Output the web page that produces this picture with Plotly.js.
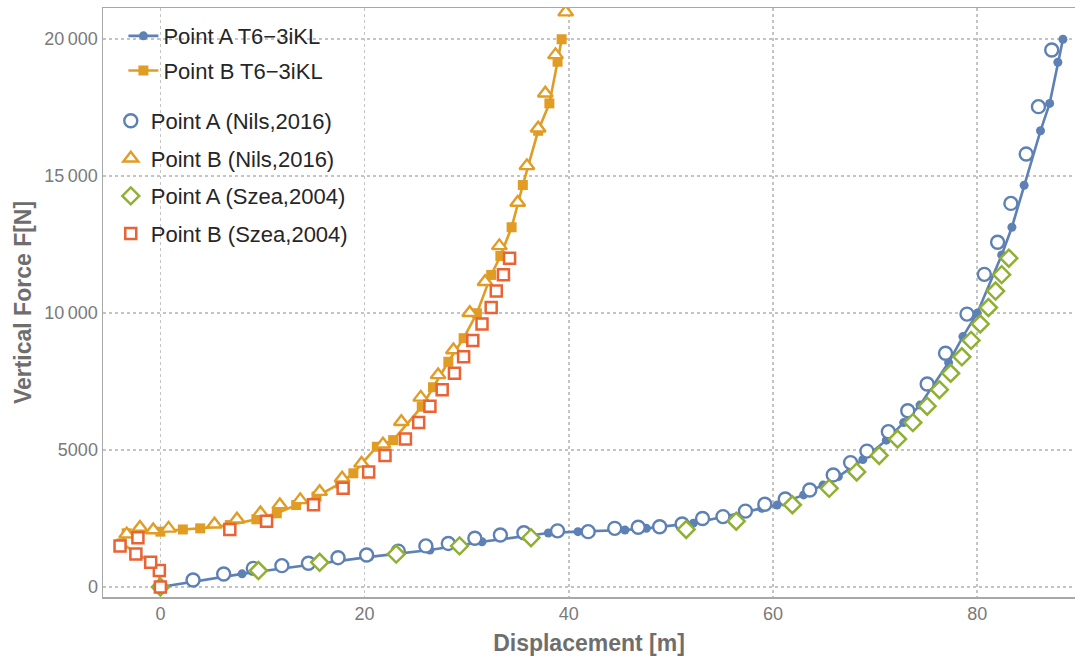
<!DOCTYPE html>
<html>
<head>
<meta charset="utf-8">
<script src="https://cdn.plot.ly/plotly-3.0.1.min.js"></script>
<style>html,body{margin:0;padding:0;background:#fff;}#chart{width:1075px;height:660px;}</style>
</head>
<body>
<div id="chart"></div>
<script>
// ---- data ----
const simAx = [0, 8.0, 20.5, 26.4, 31.5, 38.0, 40.9, 45.5, 47.6, 52.2, 58.9, 60.4, 63.0, 64.9, 66.4, 68.8, 71.1, 72.8, 74.4, 77.2, 78.6, 80.0, 82.4, 83.4, 84.6, 86.2, 87.1, 87.9, 88.4];
const simAy = [0, 480, 1100, 1350, 1650, 1970, 2020, 2080, 2140, 2330, 2870, 2990, 3360, 3720, 4030, 4650, 5360, 6000, 6640, 8190, 9140, 9990, 12120, 13130, 14660, 16650, 17650, 19150, 19990];

const simBx = [0, -0.2, -1.0, -2.3, -3.8, -3.3, 0, 2.2, 3.9, 6.8, 9.4, 11.4, 13.3, 15.3, 17.6, 18.9, 21.2, 22.8, 25.6, 26.7, 28.2, 29.7, 31.0, 32.4, 33.3, 34.4, 35.5, 37.0, 38.1, 38.9, 39.3];
const simBy = [0, 620, 920, 1230, 1590, 1960, 2020, 2100, 2140, 2260, 2470, 2690, 2990, 3300, 3780, 4150, 5120, 5360, 6580, 7290, 8220, 9080, 9990, 11390, 12080, 13130, 14670, 16650, 17650, 19170, 19990];

const nilsAx = [3.2, 6.2, 9.1, 11.9, 14.5, 17.4, 20.2, 23.3, 26.0, 28.2, 30.8, 33.3, 35.6, 38.9, 41.9, 44.5, 46.8, 48.9, 51.1, 53.1, 55.1, 57.3, 59.2, 61.2, 63.6, 65.9, 67.6, 69.2, 71.3, 73.2, 75.1, 76.9, 79.0, 80.7, 82.0, 83.3, 84.8, 86.0, 87.3];
const nilsAy = [255, 474, 680, 780, 865, 1070, 1170, 1310, 1500, 1590, 1780, 1900, 1980, 2050, 2020, 2140, 2180, 2200, 2300, 2500, 2570, 2770, 3020, 3210, 3540, 4090, 4540, 4960, 5670, 6430, 7410, 8530, 9960, 11410, 12580, 14000, 15800, 17530, 19600];

const nilsBx = [-3.3, -2.0, -0.7, 0.8, 5.3, 7.5, 9.8, 11.7, 13.7, 15.6, 17.8, 19.7, 21.8, 23.6, 25.5, 27.2, 28.7, 30.3, 31.8, 33.2, 35.0, 35.9, 37.0, 37.7, 38.7, 39.7];
const nilsBy = [1930, 2170, 2080, 2140, 2290, 2470, 2700, 2990, 3180, 3480, 3970, 4510, 5210, 6030, 6920, 7740, 8650, 10010, 11140, 12450, 14030, 15370, 16740, 18020, 19420, 20980];

const szeaAx = [0, 9.6, 15.6, 23.1, 29.3, 36.3, 51.5, 56.4, 61.9, 65.5, 68.2, 70.4, 72.2, 73.7, 75.1, 76.3, 77.4, 78.5, 79.4, 80.3, 81.1, 81.8, 82.4, 83.1];
const szeaAy = [0, 600, 900, 1200, 1500, 1800, 2100, 2400, 3000, 3600, 4200, 4800, 5400, 6000, 6600, 7200, 7800, 8400, 9000, 9600, 10200, 10800, 11400, 12000];

const szeaBx = [0, -0.1, -0.95, -2.4, -3.95, -2.2, 6.8, 10.4, 15.0, 17.9, 20.4, 22.0, 24.0, 25.3, 26.4, 27.6, 28.8, 29.7, 30.6, 31.5, 32.4, 32.9, 33.6, 34.2];
const szeaBy = [0, 600, 900, 1200, 1500, 1800, 2100, 2400, 3000, 3600, 4200, 4800, 5400, 6000, 6600, 7200, 7800, 8400, 9000, 9600, 10200, 10800, 11400, 12000];

const seriesNames = ["Point A T6\u22123iKL", "Point B T6\u22123iKL", "Point A (Nils,2016)", "Point B (Nils,2016)", "Point A (Szea,2004)", "Point B (Szea,2004)"];
const yTickVals = [0, 5000, 10000, 15000, 20000];
const yTickText = ["0", "5000", "10\u2009000", "15\u2009000", "20\u2009000"];
const xTickVals = [0, 20, 40, 60, 80];

// ---- styles ----
const BLUE = "#5E81B5", ORANGE = "#E19C24", GREEN = "#8FB032", RED = "#EB6235";
const SANS = "'Liberation Sans', Arial, Helvetica, sans-serif";

const traces = [
  {x: simAx, y: simAy, name: seriesNames[0], mode: "lines+markers", legend: "legend", legendgroup: "g1",
   line: {color: BLUE, width: 2.6}, marker: {symbol: "circle", size: 9, color: BLUE}},
  {x: simBx, y: simBy, name: seriesNames[1], mode: "lines+markers", legend: "legend", legendgroup: "g2",
   line: {color: ORANGE, width: 2.6}, marker: {symbol: "square", size: 10, color: ORANGE}},
  {x: nilsAx, y: nilsAy, name: seriesNames[2], mode: "markers", legend: "legend2", legendgroup: "g3",
   marker: {symbol: "circle", size: 13, color: "#fff", line: {color: BLUE, width: 2.4}}},
  {x: nilsBx, y: nilsBy, name: seriesNames[3], mode: "markers", legend: "legend2", legendgroup: "g4",
   marker: {symbol: "triangle-up", size: 13, color: "#fff", line: {color: ORANGE, width: 2.4}}},
  {x: szeaAx, y: szeaAy, name: seriesNames[4], mode: "markers", legend: "legend2", legendgroup: "g5",
   marker: {symbol: "diamond", size: 13, color: "#fff", line: {color: GREEN, width: 2.5}}},
  {x: szeaBx, y: szeaBy, name: seriesNames[5], mode: "markers", legend: "legend2", legendgroup: "g6",
   marker: {symbol: "square", size: 11, color: "#fff", line: {color: RED, width: 2.5}}}
];

const axisCommon = {
  showline: true, linecolor: "#a8a8a8", linewidth: 1.5, mirror: true,
  showgrid: true, gridcolor: "#c4c4c4", griddash: "dot", gridwidth: 1.5,
  zeroline: false, ticks: "", tickfont: {family: SANS, size: 18, color: "#7a7a7a"}
};

const layout = {
  width: 1075, height: 660,
  margin: {l: 103, r: 0, t: 8, b: 63},
  paper_bgcolor: "#fff", plot_bgcolor: "#fff",
  xaxis: Object.assign({}, axisCommon, {
    range: [-5.62, 89.58], tickvals: xTickVals, automargin: false,
    title: {text: "Displacement [m]", font: {family: SANS, size: 23, color: "#6e6e6e", weight: "bold"}, standoff: 12}
  }),
  yaxis: Object.assign({}, axisCommon, {
    range: [-365, 21131], tickvals: yTickVals, ticktext: yTickText, automargin: false,
    title: {text: "Vertical Force F[N]", font: {family: SANS, size: 23, color: "#6e6e6e", weight: "bold"}, standoff: 6}
  }),
  showlegend: true,
  legend: {
    x: 0.021, y: 0.988, xanchor: "left", yanchor: "top",
    bgcolor: "rgba(0,0,0,0)", borderwidth: 0, traceorder: "grouped", tracegroupgap: 3,
    font: {family: SANS, size: 22, color: "#262626"}
  },
  legend2: {
    x: 0.008, y: 0.844, xanchor: "left", yanchor: "top",
    bgcolor: "rgba(0,0,0,0)", borderwidth: 0, traceorder: "grouped", tracegroupgap: 6,
    font: {family: SANS, size: 22, color: "#262626"}
  }
};

Plotly.newPlot("chart", traces, layout, {staticPlot: true, displayModeBar: false});
</script>
</body>
</html>
